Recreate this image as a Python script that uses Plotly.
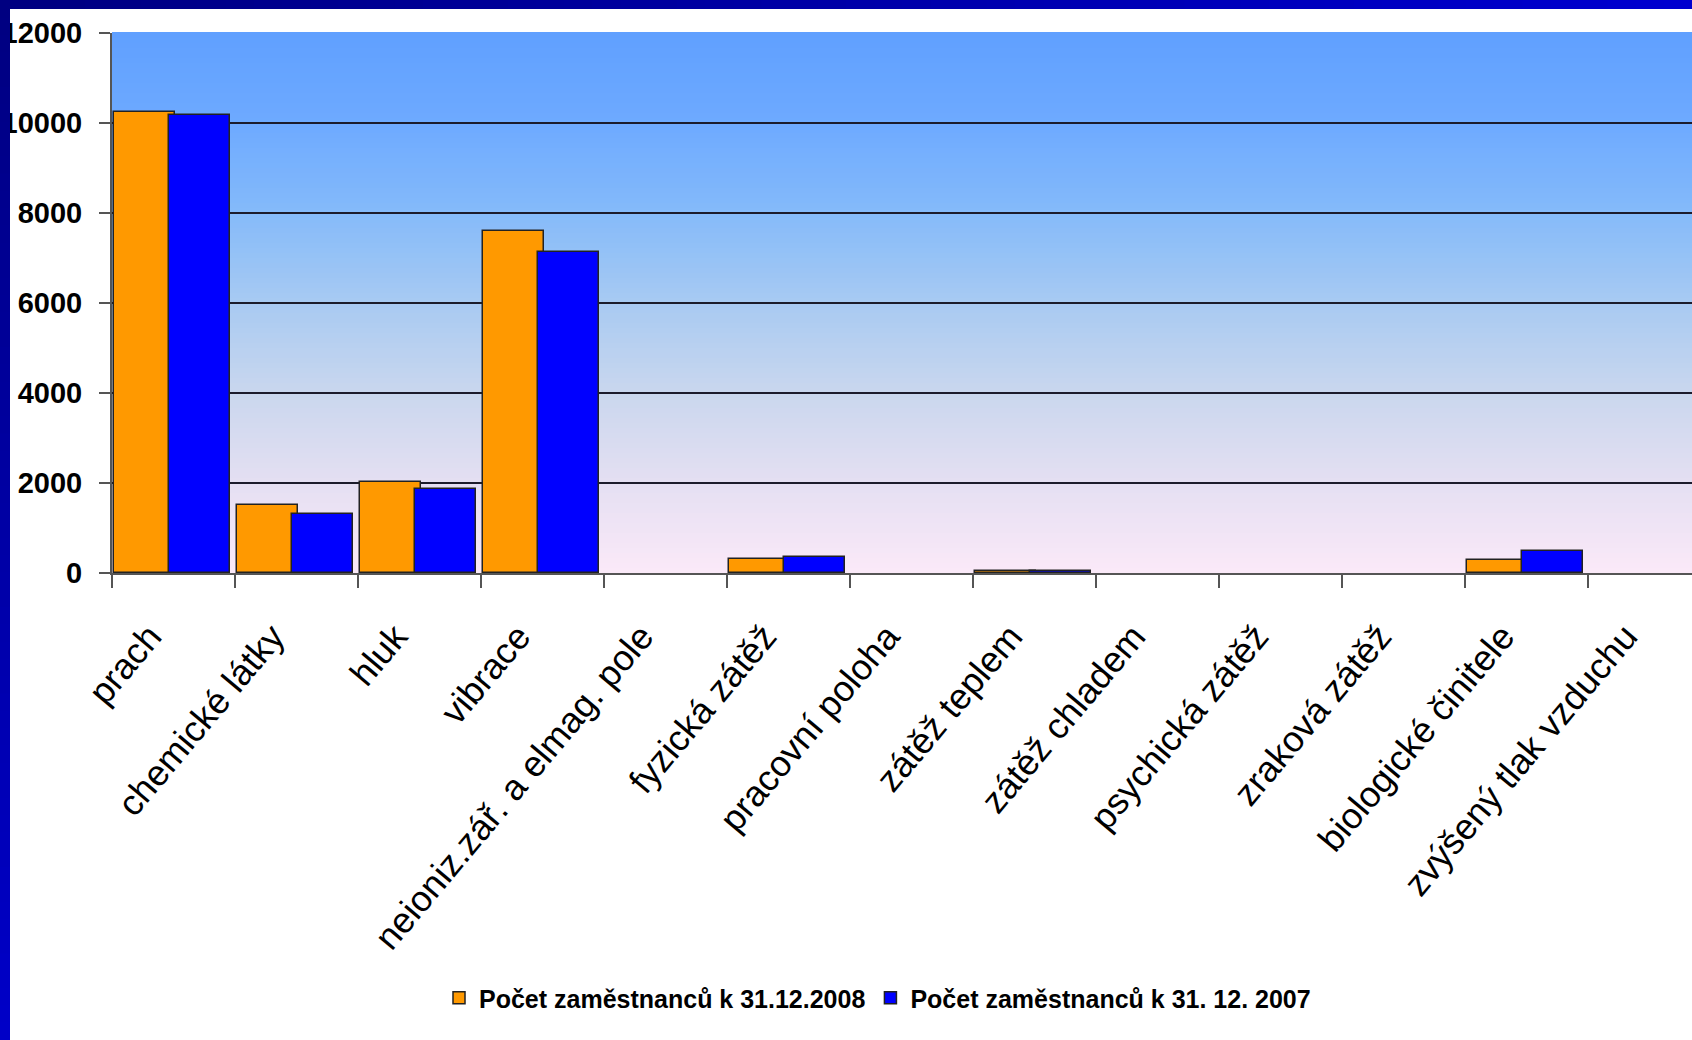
import plotly.graph_objects as go

# Categories of workplace risk factors
categories = [
    "prach", "chemické látky", "hluk", "vibrace", "neioniz.zář. a elmag. pole",
    "fyzická zátěž", "pracovní poloha", "zátěž teplem", "zátěž chladem",
    "psychická zátěž", "zraková zátěž", "biologické činitele", "zvýšený tlak vzduchu",
]

# Number of employees per factor
employees_2008 = [10250, 1520, 2030, 7600, 0, 310, 0, 45, 0, 0, 0, 280, 0]
employees_2007 = [10180, 1320, 1860, 7130, 0, 360, 0, 40, 0, 0, 0, 490, 0]

series_names = ["Počet zaměstnanců k 31.12.2008", "Počet zaměstnanců k 31. 12. 2007"]
series_colors = ["#FF9900", "#0000FF"]

y_ticks = [0, 2000, 4000, 6000, 8000, 10000, 12000]
grid_values = [2000, 4000, 6000, 8000, 10000]

W, H = 1692, 1040
PLOT_L, PLOT_T, PLOT_B = 112, 33, 573
FONT = "Liberation Sans, Arial, sans-serif"


def px_x(px):
    return (px - PLOT_L) / (W - PLOT_L)


def px_y(py):
    return (PLOT_B - py) / (PLOT_B - PLOT_T)


def lerp(stops, t):
    for (t0, c0), (t1, c1) in zip(stops, stops[1:]):
        if t0 <= t <= t1:
            f = (t - t0) / (t1 - t0) if t1 > t0 else 0
            return tuple(round(a + (b - a) * f) for a, b in zip(c0, c1))
    return stops[-1][1]


def outline_widths(values):
    # no outline on empty categories
    return [1.5 if v > 0 else 0 for v in values]


fig = go.Figure()

fig.add_trace(go.Bar(
    x=categories, y=employees_2008, name=series_names[0],
    marker=dict(color=series_colors[0],
                line=dict(color="#222222", width=outline_widths(employees_2008))),
    offset=-0.484, width=0.5,
))
fig.add_trace(go.Bar(
    x=categories, y=employees_2007, name=series_names[1],
    marker=dict(color=series_colors[1],
                line=dict(color="#222222", width=outline_widths(employees_2007))),
    offset=-0.036, width=0.495,
))

shapes = []

# Plot-area background: vertical gradient from lavender-pink to blue
bg_stops = [
    (0.0, (251, 233, 248)),
    (0.17, (228, 223, 242)),
    (0.33, (202, 215, 238)),
    (0.5, (168, 202, 242)),
    (0.67, (132, 186, 250)),
    (0.83, (110, 170, 255)),
    (1.0, (96, 160, 255)),
]
n_bands = 108
for i in range(n_bands):
    t0, t1 = i / n_bands, (i + 1) / n_bands
    r, g, b = lerp(bg_stops, (t0 + t1) / 2)
    shapes.append(dict(
        type="rect", xref="paper", yref="paper", x0=0, x1=1, y0=t0, y1=t1 + 0.002,
        fillcolor=f"rgb({r},{g},{b})", line=dict(width=0), layer="below",
    ))

# Horizontal grid lines
for v in grid_values:
    shapes.append(dict(
        type="line", xref="paper", yref="y", x0=0, x1=1, y0=v, y1=v,
        line=dict(color="#1c1c2c", width=2), layer="below",
    ))

# Slide frame: top bar (navy to blue) and left bar
top_stops = [(0.0, (0, 0, 128)), (1.0, (0, 0, 208))]
n_seg = 60
for i in range(n_seg):
    x0p, x1p = W * i / n_seg, W * (i + 1) / n_seg + 1
    r, g, b = lerp(top_stops, (i + 0.5) / n_seg)
    shapes.append(dict(
        type="rect", xref="paper", yref="paper",
        x0=px_x(x0p), x1=px_x(x1p), y0=px_y(9), y1=px_y(0),
        fillcolor=f"rgb({r},{g},{b})", line=dict(width=0), layer="above",
    ))
left_stops = [(0.0, (0, 0, 128)), (1.0, (0, 0, 200))]
for i in range(n_seg):
    y0p, y1p = H * i / n_seg, H * (i + 1) / n_seg + 1
    r, g, b = lerp(left_stops, (i + 0.5) / n_seg)
    shapes.append(dict(
        type="rect", xref="paper", yref="paper",
        x0=px_x(0), x1=px_x(10), y0=px_y(y1p), y1=px_y(y0p),
        fillcolor=f"rgb({r},{g},{b})", line=dict(width=0), layer="above",
    ))

fig.update_layout(
    width=W, height=H, autosize=False,
    margin=dict(l=PLOT_L, r=0, t=PLOT_T, b=H - PLOT_B, pad=0, autoexpand=False),
    paper_bgcolor="white", plot_bgcolor="rgba(0,0,0,0)",
    barmode="overlay", bargap=0,
    shapes=shapes,
    showlegend=True,
    legend=dict(
        orientation="h", xref="container", yref="container",
        x=439 / W, y=(H - 998) / H, xanchor="left", yanchor="middle",
        itemwidth=30,
        font=dict(family=FONT, size=25, color="black", weight="bold"),
        bgcolor="rgba(0,0,0,0)", traceorder="normal",
    ),
    xaxis=dict(
        type="category", range=[-0.5, 12.5 - 19 / 123], automargin=False,
        tickson="boundaries", ticks="outside", ticklen=13, tickwidth=2, tickcolor="#555555",
        showline=True, linecolor="#555555", linewidth=2, showgrid=False, zeroline=False,
        tickangle=-50, tickfont=dict(family=FONT, size=36, color="black"),
        ticklabelstandoff=26, ticklabelshift=-24,
    ),
    yaxis=dict(
        range=[0, 12000], tickvals=y_ticks, ticktext=[str(v) for v in y_ticks],
        automargin=False,
        ticks="outside", ticklen=11, tickwidth=2, tickcolor="#555555",
        showline=True, linecolor="#555555", linewidth=2, showgrid=False, zeroline=False,
        tickfont=dict(family=FONT, size=29, color="black", weight="bold"),
        ticklabelstandoff=11,
    ),
)

fig.write_html("out.html")
